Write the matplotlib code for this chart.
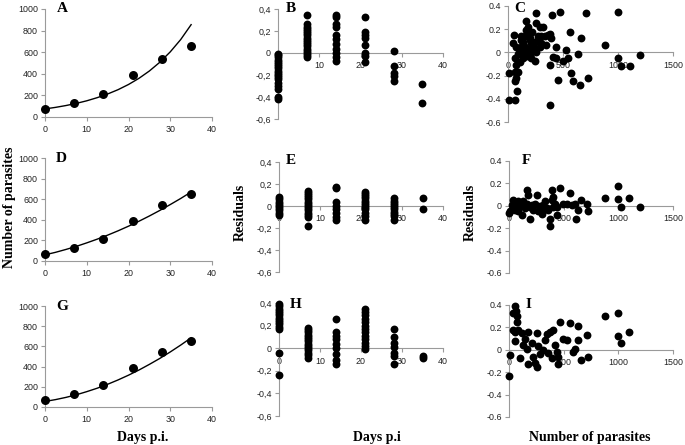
import matplotlib.pyplot as plt
from matplotlib.ticker import FixedLocator, FixedFormatter

plt.rcParams['font.family'] = ['Liberation Sans', 'DejaVu Sans']

W, H = 685, 445
GREY = '#9a9a9a'

# observed mean number of parasites (same in A, D, G)
days = [0, 7, 14, 21, 28, 35]
parasites = [70, 125, 215, 385, 540, 655]

# fitted curves, every 2.5 days
curve_days = [0, 2.5, 5, 7.5, 10, 12.5, 15, 17.5, 20, 22.5, 25, 27.5, 30, 32.5, 35]
curve_a = [75, 89, 106, 126, 150, 179, 213, 253, 301, 358, 426, 507, 603, 717, 855]
curve_d = [60, 84, 112, 142, 176, 212, 251, 293, 338, 386, 437, 491, 548, 607, 670]
curve_g = [55, 73, 95, 121, 152, 186, 225, 268, 315, 366, 422, 481, 545, 613, 685]

# residuals against days p.i.
res_b = {0: [-0.42, -0.40, -0.33, -0.30, -0.27, -0.24, -0.22, -0.20, -0.18, -0.16,
             -0.14, -0.12, -0.10, -0.08, -0.06, -0.04, -0.02, -0.01],
         7: [0.35, 0.26, 0.24, 0.22, 0.20, 0.18, 0.16, 0.14, 0.12, 0.10, 0.08,
             0.06, 0.04, 0.02, 0.0, -0.02, -0.04],
         14: [0.35, 0.33, 0.26, 0.24, 0.16, 0.13, 0.08, 0.04, 0.0, -0.04, -0.07],
         21: [0.33, 0.19, 0.16, 0.14, 0.07, 0.0, -0.03, -0.08],
         28: [0.02, -0.12, -0.18, -0.21, -0.25],
         35: [-0.28, -0.45]}
res_e = {0: [0.08, 0.06, 0.04, 0.02, 0.0, -0.02, -0.04, -0.06, -0.085],
         7: [0.14, 0.12, 0.10, 0.08, 0.06, 0.04, 0.02, 0.0, -0.02, -0.04, -0.06,
             -0.08, -0.10, -0.18],
         14: [0.17, 0.16, 0.04, 0.0, -0.03, -0.06, -0.10, -0.13],
         21: [0.13, 0.11, 0.09, 0.07, 0.05, 0.03, 0.01, -0.01, -0.03, -0.06, -0.09,
              -0.13],
         28: [0.07, 0.05, 0.03, 0.01, -0.01, -0.03, -0.05, -0.07, -0.09, -0.13],
         35: [0.07, -0.03]}
res_h = {0: [0.39, 0.37, 0.35, 0.33, 0.31, 0.29, 0.27, 0.25, 0.23, 0.21, 0.19,
             0.17, -0.045, -0.24],
         7: [0.18, 0.16, 0.14, 0.12, 0.10, 0.08, 0.06, 0.04, 0.02, 0.0, -0.02,
             -0.04, -0.06, -0.085],
         14: [0.26, 0.14, 0.11, 0.08, 0.04, 0.0, -0.05, -0.10, -0.14],
         21: [0.35, 0.32, 0.29, 0.26, 0.23, 0.20, 0.17, 0.14, 0.11, 0.08, 0.05,
              0.02, -0.01],
         28: [0.17, 0.10, 0.05, 0.01, -0.04, -0.07, -0.14],
         35: [-0.07, -0.09]}

# residuals against number of parasites
c_x = [9, 60, 9, 52, 45, 60, 75, 60, 70, 60, 82, 90, 105, 120, 136, 150, 167, 180,
       197, 180, 212, 227, 242, 258, 258, 273, 288, 303, 318, 333, 348, 364, 379,
       394, 379, 403, 409, 385, 439, 455, 439, 470, 500, 530, 545, 561, 576, 591,
       636, 652, 667, 712, 727, 879, 1000, 1000, 1030, 1106, 1197,
       90, 136, 167, 197, 136, 105, 150, 212, 242, 121, 182, 76, 288, 303,
       115, 160, 200, 230, 260, 98, 140, 175, 215, 250]
c_y = [-0.41, -0.41, -0.18, 0.15, 0.08, -0.05, -0.11, -0.17, -0.22, -0.25, -0.33,
       -0.17, -0.01, 0.05, 0.09, 0.14, 0.27, 0.22, 0.11, 0.03, -0.05, 0.02, -0.07,
       0.34, 0.25, 0.14, 0.22, 0.08, 0.22, 0.14, 0.06, 0.15, 0.16, 0.12, -0.11,
       0.32, -0.04, -0.45, 0.05, -0.24, -0.05, 0.35, -0.07, 0.02, -0.05, 0.18,
       -0.18, -0.25, -0.01, -0.28, 0.12, 0.34, -0.22, 0.06, 0.35, -0.05, -0.12,
       -0.12, -0.02,
       -0.01, 0.01, -0.02, -0.01, -0.05, -0.08, 0.05, 0.08, 0.09, 0.14, 0.16,
       0.05, 0.05, 0.14,
       0.11, 0.19, 0.12, 0.05, 0.10, 0.03, 0.07, -0.03, 0.18, 0.0]
f_x = [3, 40, 55, 85, 116, 161, 176, 192, 207, 252, 268, 298, 313, 344, 374, 374,
       389, 389, 405, 435, 465, 496, 526, 557, 572, 602, 617, 633, 663, 709, 724,
       876, 998, 998, 1028, 1098, 1196,
       9, 24, 40, 70, 85, 100, 131, 146, 161, 192, 222, 237, 283, 313, 328, 359,
       405, 420, 435]
f_y = [-0.065, 0.05, -0.04, -0.05, -0.08, 0.14, 0.10, -0.12, 0.01, 0.10, -0.05,
       -0.07, 0.01, -0.02, -0.12, -0.18, 0.14, 0.05, -0.01, -0.08, 0.16, 0.02,
       0.02, 0.11, 0.01, 0.02, -0.12, -0.04, 0.05, 0.02, -0.05, 0.07, 0.18, 0.06,
       -0.01, 0.07, -0.01,
       -0.05, 0.01, -0.02, 0.01, 0.04, 0.0, 0.04, -0.02, 0.02, -0.01, -0.04, 0.02,
       0.0, -0.04, 0.04, -0.04, 0.08, 0.02, -0.01]
i_x = [9, 3, 40, 55, 64, 70, 76, 40, 55, 85, 55, 100, 116, 131, 146, 161, 177, 177,
       207, 222, 237, 252, 252, 268, 283, 313, 328, 344, 359, 374, 389, 405, 420,
       435, 450, 450, 465, 496, 526, 557, 587, 602, 633, 633, 654, 709, 724, 876,
       998, 998, 1028, 1098]
i_y = [-0.045, -0.23, 0.33, 0.39, 0.35, 0.30, 0.25, 0.18, 0.16, 0.18, 0.075,
       -0.075, 0.15, 0.04, 0.10, 0.01, 0.16, -0.13, 0.06, -0.06, -0.12, 0.15,
       -0.15, 0.03, -0.04, 0.0, 0.09, 0.14, -0.03, 0.16, -0.07, 0.18, 0.045,
       -0.02, -0.06, -0.13, 0.25, 0.10, 0.09, 0.24, -0.02, 0.01, 0.21, 0.09,
       -0.09, 0.13, -0.06, 0.30, 0.33, 0.125, 0.06, 0.16]

# panel boxes in pixels: left, right, top, bottom
boxes = {'A': (45, 212, 9, 117), 'B': (278, 443, 9, 119), 'C': (508, 673, 6, 122),
         'D': (45, 212, 158, 261), 'E': (279, 443, 162, 272), 'F': (509, 673, 161, 273),
         'G': (45, 212, 306, 407), 'H': (279, 443, 303, 416), 'I': (509, 673, 305, 417)}
letter_pos = {'A': (62, 9), 'B': (291, 9), 'C': (520, 9), 'D': (61, 158),
              'E': (291, 160), 'F': (526, 160), 'G': (62, 306), 'H': (296, 304),
              'I': (528, 304)}

fig = plt.figure(figsize=(W / 100, H / 100), dpi=100)


def make_ax(key):
    l, r, t, b = boxes[key]
    return fig.add_axes([l / W, 1 - b / H, (r - l) / W, (b - t) / H])


def style(ax, resid=False):
    for s in ['top', 'right']:
        ax.spines[s].set_visible(False)
    for s in ['left', 'bottom']:
        ax.spines[s].set_color(GREY)
        ax.spines[s].set_linewidth(0.8)
    if resid:
        ax.spines['bottom'].set_position(('data', 0))
    ax.tick_params(length=3, width=0.8, color=GREY, labelsize=6.4,
                   labelcolor='#222222', pad=2)
    ax.tick_params(axis='x', pad=3)
    ax.set_facecolor('none')


def growth(key, curve):
    ax = make_ax(key)
    ax.plot(curve_days, curve, color='black', lw=1)
    ax.scatter(days, parasites, s=42, color='black', zorder=3, clip_on=False, lw=0)
    ax.set_xlim(0, 40)
    ax.set_ylim(0, 1000)
    ax.set_xticks([0, 10, 20, 30, 40])
    ax.set_yticks([0, 200, 400, 600, 800, 1000])
    style(ax)
    return ax


def resid_days(key, res):
    ax = make_ax(key)
    for d, vals in res.items():
        ax.scatter([d] * len(vals), vals, s=32, color='black', zorder=3,
                   clip_on=False, lw=0)
    ax.set_xlim(0, 40)
    ax.set_ylim(-0.6, 0.4)
    ax.set_xticks([0, 10, 20, 30, 40])
    yt = [-0.6, -0.4, -0.2, 0, 0.2, 0.4]
    ax.yaxis.set_major_locator(FixedLocator(yt))
    ax.yaxis.set_major_formatter(FixedFormatter(['-0,6', '-0,4', '-0,2', '0', '0,2', '0,4']))
    style(ax, True)
    return ax


def resid_par(key, x, y):
    ax = make_ax(key)
    ax.scatter(x, y, s=32, color='black', zorder=3, clip_on=False, lw=0)
    ax.set_xlim(0, 1500)
    ax.set_ylim(-0.6, 0.4)
    ax.set_xticks([0, 500, 1000, 1500])
    yt = [-0.6, -0.4, -0.2, 0, 0.2, 0.4]
    ax.yaxis.set_major_locator(FixedLocator(yt))
    ax.yaxis.set_major_formatter(FixedFormatter(['-0.6', '-0.4', '-0.2', '0', '0.2', '0.4']))
    style(ax, True)
    return ax


growth('A', curve_a)
growth('D', curve_d)
growth('G', curve_g)
resid_days('B', res_b)
resid_days('E', res_e)
resid_days('H', res_h)
resid_par('C', c_x, c_y)
resid_par('F', f_x, f_y)
resid_par('I', i_x, i_y)

serif = ['Liberation Serif', 'DejaVu Serif']
for k, (px, py) in letter_pos.items():
    fig.text(px / W, 1 - py / H, k, family=serif, weight='bold', fontsize=11,
             ha='center', va='center')

fig.text(10 / W, 1 - 207 / H, 'Number of parasites', family=serif, weight='bold',
         fontsize=10, rotation=90, ha='center', va='center')
fig.text(240 / W, 1 - 212 / H, 'Residuals', family=serif, weight='bold',
         fontsize=10, rotation=90, ha='center', va='center')
fig.text(470 / W, 1 - 212 / H, 'Residuals', family=serif, weight='bold',
         fontsize=10, rotation=90, ha='center', va='center')
fig.text(143 / W, 1 - 438 / H, 'Days p.i.', family=serif, weight='bold',
         fontsize=10, ha='center', va='center')
fig.text(377 / W, 1 - 438 / H, 'Days p.i', family=serif, weight='bold',
         fontsize=10, ha='center', va='center')
fig.text(590 / W, 1 - 438 / H, 'Number of parasites', family=serif, weight='bold',
         fontsize=10, ha='center', va='center')

fig.savefig('out.png', dpi=100)
